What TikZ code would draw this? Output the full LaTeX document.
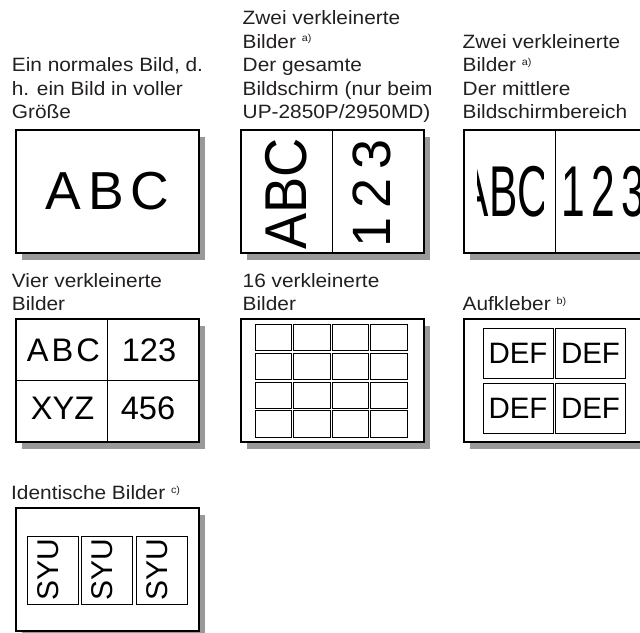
\documentclass[tikz,border=0pt]{standalone}
\usepackage{fontspec}
\usepackage{graphicx}
\setmainfont{Liberation Sans}
\newfontfamily\lblfont[FakeStretch=1.08]{Liberation Sans}
\usetikzlibrary{shadows}
\definecolor{shade}{RGB}{153,153,153}
\definecolor{ink}{RGB}{35,31,32}
\newcommand\supx[1]{\ \raisebox{6.7pt}{\fontsize{10}{10}\selectfont #1}}
\tikzset{
  panelbox/.style={draw=black, line width=1.3pt, fill=white, anchor=north west,
    inner sep=0pt, outer sep=0pt, minimum width=183pt, minimum height=123pt,
    drop shadow={shadow xshift=6pt, shadow yshift=-7pt, fill=shade, opacity=1}},
  lbl/.style={anchor=south west, inner sep=0pt, align=left, text depth=0pt,
    font=\lblfont\fontsize{19.3}{23.5}\selectfont, text=ink},
  bigtxt/.style={inner sep=0pt, text=black},
  divider/.style={draw=black, line width=0.9pt},
  cell/.style={draw=black, line width=0.9pt},
  sticker/.style={draw=black, line width=0.9pt, inner sep=0pt, minimum width=70pt,
    minimum height=50pt, font=\fontsize{29.5}{32}\selectfont},
  copybox/.style={draw=black, line width=0.9pt, inner sep=0pt, minimum width=51pt,
    minimum height=68pt},
}
\begin{document}
\begin{tikzpicture}[x=1pt, y=-1pt]
\useasboundingbox (0,0) rectangle (640,632);

% ---------- Row 1 ----------
\node[lbl] (l1) at (11.7,119) {Ein normales Bild, d.\\h. ein Bild in voller\\Größe};
\node[lbl] (l2) at (242.5,119) {Zwei verkleinerte\\Bilder\supx{a)}\\Der gesamte\\Bildschirm (nur beim\\UP-2850P/2950MD)};
\node[lbl] (l3) at (462.5,119) {Zwei verkleinerte\\Bilder\supx{a)}\\Der mittlere\\Bildschirmbereich};

\node[panelbox] (p1) at (16,130) {};
\node[bigtxt] (t1) at (107.5,190.8) {\fontsize{53.5}{60}\selectfont A\kern7pt B\kern7pt C};

\node[panelbox] (p2) at (241,130) {};
\draw[divider] (p2.north) -- (p2.south);
\node[bigtxt, rotate=90] (t2a) at (286.5,194) {\scalebox{0.92}[1]{\fontsize{59}{60}\selectfont ABC}};
\node[bigtxt, rotate=90] (t2b) at (372,193) {\fontsize{54}{60}\selectfont 1\kern9pt 2\kern9pt 3};

\node[panelbox] (p3) at (464,130) {};
\draw[divider] (p3.north) -- (p3.south);
\begin{scope}
  \clip (477,140) rectangle (543,245);
  \node[bigtxt, anchor=base west] (t3a) at (460.7,216.7) {\scalebox{0.59}[1]{\fontsize{72}{72}\selectfont ABC}};
\end{scope}
\node[bigtxt, anchor=base west] (t3b) at (561,216.7) {\scalebox{0.59}[1]{\fontsize{72}{72}\selectfont 1\kern11pt 2\kern11pt 3}};

% ---------- Row 2 ----------
\node[lbl] (l4) at (11.7,311) {Vier verkleinerte\\Bilder};
\node[lbl] (l5) at (242.5,311) {16 verkleinerte\\Bilder};
\node[lbl] (l6) at (462.5,311) {Aufkleber\supx{b)}};

\node[panelbox] (p4) at (16,319) {};
\draw[divider] (p4.north) -- (p4.south);
\draw[divider] (p4.west) -- (p4.east);
\node[bigtxt] (t4a) at (63.3,350) {\fontsize{32.6}{36}\selectfont A\kern3pt B\kern3pt C};
\node[bigtxt] (t4b) at (149,350) {\fontsize{32.6}{36}\selectfont 123};
\node[bigtxt] (t4c) at (62.5,408.7) {\fontsize{32.6}{36}\selectfont XYZ};
\node[bigtxt] (t4d) at (148,408.7) {\fontsize{32.6}{36}\selectfont 456};

\node[panelbox] (p5) at (241,319) {};
\foreach \cx in {255,293.3,332,370.3}{
  \foreach \cy in {324.3,353,382,410.7}{
    \draw[cell] (\cx,\cy) rectangle ++(36.7,26.5);
  }
}

\node[panelbox] (p6) at (464,319) {};
\node[sticker] (s1) at (518,353) {DEF};
\node[sticker] (s2) at (590.5,353) {DEF};
\node[sticker] (s3) at (518,408) {DEF};
\node[sticker] (s4) at (590.5,408) {DEF};

% ---------- Row 3 ----------
\node[lbl] (l7) at (11,500) {Identische Bilder\supx{c)}};
\node[panelbox] (p7) at (16,508) {};
\node[copybox] (c1) at (52.5,570) {};
\node[copybox] (c2) at (107,570) {};
\node[copybox] (c3) at (161.5,570) {};
\node[bigtxt, rotate=90] (y1) at (48,570) {\fontsize{30}{32}\selectfont SYU};
\node[bigtxt, rotate=90] (y2) at (102.5,570) {\fontsize{30}{32}\selectfont SYU};
\node[bigtxt, rotate=90] (y3) at (157,570) {\fontsize{30}{32}\selectfont SYU};
\end{tikzpicture}
\end{document}
